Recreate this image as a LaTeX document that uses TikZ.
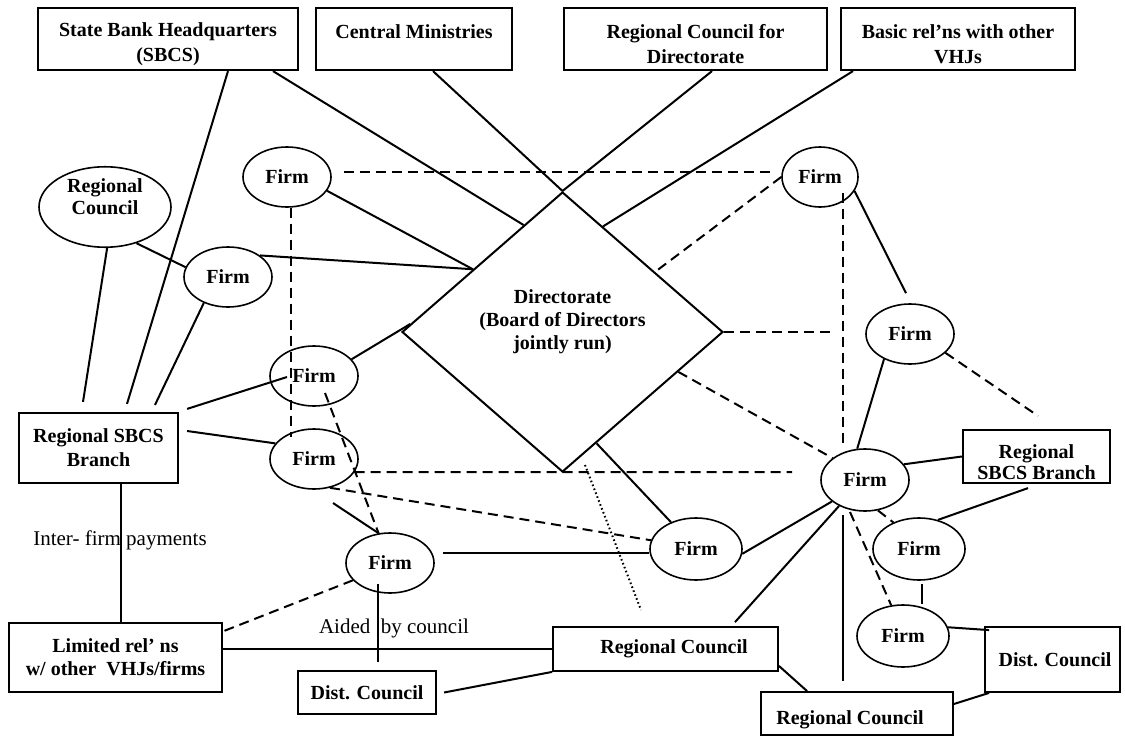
\documentclass[tikz,border=0pt]{standalone}
\usepackage{fontspec}
\setmainfont{Liberation Serif}
\usetikzlibrary{shapes.geometric}
% struts that push a label down (extra height) or up (extra depth) in its box
\newcommand\padtop[1]{\rule{0pt}{#1}}
\newcommand\padbot[1]{\rule[-#1]{0pt}{#1}}
\begin{document}
\begin{tikzpicture}[x=1pt,y=-1pt,
  box/.style={draw, line width=2.2pt, rectangle, inner sep=0pt, align=center,
    font=\fontsize{20}{25}\selectfont\bfseries},
  thinbox/.style={box, line width=1.8pt},
  firm/.style={draw, line width=1.6pt, ellipse, inner sep=0pt, align=center,
    minimum width=88, minimum height=60, font=\fontsize{20}{22}\selectfont\bfseries},
  link/.style={line width=2pt},
  dlink/.style={line width=2pt, dash pattern=on 10pt off 6pt},
  olink/.style={line width=2pt, dash pattern=on 1.6pt off 2.6pt},
  note/.style={inner sep=0pt, font=\fontsize{21}{25}\selectfont}]

\fill[white] (0,0) rectangle (1125,736);
\useasboundingbox (0,0) rectangle (1125,736);

% top row of boxes
\node[box, minimum width=260, minimum height=62] (hq) at (168,39) {\padtop{24pt}State Bank Headquarters\\(SBCS)};
\node[box, minimum width=196, minimum height=62] (cm) at (414,39) {\padtop{24pt}Central Ministries\\\mbox{}};
\node[box, minimum width=263, minimum height=62] (rcd) at (695.5,39) {\padtop{24pt}Regional Council for\\Directorate};
\node[box, minimum width=234, minimum height=62] (vhj) at (958,39) {\padtop{24pt}Basic rel’ns with other\\VHJs};

% the directorate
\node[draw, diamond, line width=2pt, minimum width=321, minimum height=280, inner sep=0pt] (dir) at (562.5,332) {};
\node[align=center, inner sep=0pt, font=\fontsize{20}{23}\selectfont\bfseries] (dirtext) at (562.5,322) {Directorate\\(Board of Directors\\jointly run)};

% councils and branches
\node[firm, minimum width=132, minimum height=80] (rc) at (105,207) {Regional\\Council\padbot{21pt}};
\node[box, minimum width=159, minimum height=70, font=\fontsize{20}{24}\selectfont\bfseries] (lb) at (98.5,448) {Regional SBCS\\Branch};
\node[box, minimum width=147, minimum height=53, font=\fontsize{20}{21}\selectfont\bfseries] (rb) at (1036.5,456.5) {\padtop{26pt}Regional\\SBCS Branch};
\node[box, minimum width=213, minimum height=69, font=\fontsize{20}{23}\selectfont\bfseries] (lim) at (115.5,657.5) {Limited rel’ ns\\w/ other~~VHJs/firms};
\node[box, minimum width=138, minimum height=43] (dcl) at (367,692.5) {Dist. Council};
\node[thinbox, minimum width=225, minimum height=44] (rcm) at (665.5,649) {\hspace*{17pt}Regional Council};
\node[thinbox, minimum width=192, minimum height=43] (rcb) at (857,713.5) {\padtop{26pt}Regional Council\hspace*{14pt}};
\node[thinbox, minimum width=135, minimum height=65] (dcr) at (1052.5,659.5) {\hspace*{5pt}Dist. Council};

% firms
\node[firm] (f1) at (287,177) {Firm};
\node[firm] (f2) at (228,277) {Firm};
\node[firm] (f3) at (314,376) {Firm};
\node[firm] (f4) at (314,459) {Firm};
\node[firm] (f5) at (390,563) {Firm};
\node[firm, minimum width=92, minimum height=62] (f6) at (696,549) {Firm};
\node[firm, minimum width=76] (f7) at (820,177) {Firm};
\node[firm] (f8) at (910,334) {Firm};
\node[firm, minimum height=62] (f9) at (865,480) {Firm};
\node[firm, minimum width=92, minimum height=62] (f10) at (919,549) {Firm};
\node[firm, minimum width=92, minimum height=62] (f11) at (903,636) {Firm};

% free labels
\node[note] (pay) at (120,540) {Inter- firm payments};
\node[note] (aid) at (394,628) {Aided\ \ by council};

% loose ends
\coordinate (e1) at (830,332);
\coordinate (e2) at (792,472);
\coordinate (p1) at (585,465);
\coordinate (p2) at (641,610);

% solid ties
\draw[link] ([xshift=60]hq.south) -- ([xshift=28.5,yshift=8]lb.north);
\draw[link] ([xshift=105]hq.south) -- (dir.110);
\draw[link] ([xshift=19]cm.south) -- (dir.north);
\draw[link] ([xshift=16.5]rcd.south) -- (dir.north);
\draw[link] ([xshift=-105]vhj.south) -- (dir.69);
\draw[link] (f1.-19) -- (dir.145);
\draw[link] (f2.34) -- (dir.145);
\draw[link] (f3.24) -- (dir.177);
\draw[link] (dir.-73) -- (f6.133);
\draw[link] (rc.-87) -- ([xshift=-15.5,yshift=10]lb.north);
\draw[link] (rc.-49) -- (f2.167);
\draw[link] (f2.-133) -- ([xshift=56.5,yshift=7]lb.north);
\draw[link] ([xshift=-27,yshift=-1]f3.center) -- ([xshift=8,yshift=3]lb.north east);
\draw[link] ([xshift=8,yshift=17]lb.east) -- (f4.158);
\draw[link] ([xshift=22.5]lb.south) -- ([xshift=5.5]lim.north);
\draw[link] (rcm.west -| lim.east) -- (rcm.west);
\draw[link] ([xshift=7]dcl.east) -- (rcm.south west);
\draw[link] ([xshift=-12,yshift=-21]f5.center) -- ([xshift=11,yshift=8]dcl.north);
\draw[link] ([xshift=53,yshift=10]f5.center) -- ([yshift=-4]f6.west);
\draw[link] ([xshift=19,yshift=-44]f4.center) -- (f5.111);
\draw[link] (f6.-6) -- (f9.213);
\draw[link] ([xshift=69.5,yshift=4]rcm.north) -- (f9.225);
\draw[link] ([yshift=6]rcm.south east) -- ([xshift=47]rcb.north west);
\draw[link] ([xshift=-22,yshift=-35]f9.center) -- ([xshift=-14,yshift=10]rcb.north);
\draw[link] (f9.22) -- (rb.west);
\draw[link] ([xshift=-8.5,yshift=-4]rb.south) -- (f10.57);
\draw[link] ([xshift=2.5,yshift=-3]f10.south) -- ([xshift=18.5]f11.north);
\draw[link] (f11.11) -- ([xshift=5,yshift=-4]dcr.north west);
\draw[link] ([xshift=5]dcr.south west) -- ([yshift=9.5]rcb.east);
\draw[link] (f7.-22) -- ([xshift=-4,yshift=10]f8.north);
\draw[link] (f8.-136) -- (f9.104);

% dashed ties
\draw[dlink] ([xshift=12,yshift=5]f1.east) -- ([xshift=-7,yshift=5]f7.west);
\draw[dlink] ([xshift=4]f1.south) -- ([xshift=-23,yshift=22]f4.center);
\draw[dlink] (f7.west) -- (dir.33);
\draw[dlink] ([xshift=23,yshift=-16]f7.center) -- ([xshift=-22,yshift=2]f9.north);
\draw[dlink] (dir.east) -- (e1);
\draw[dlink] (f8.-28) -- ([xshift=1.5,yshift=13]rb.north);
\draw[dlink] (dir.-19) -- (f9.146);
\draw[dlink] (f4.-18) -- (e2);
\draw[dlink] (f4.-61) -- (f6.169);
\draw[dlink] ([xshift=11,yshift=-17]f3.center) -- (f5.111);
\draw[dlink] (f5.205) -- ([xshift=-4,yshift=-11]lim.north east);
\draw[dlink] ([xshift=-15,yshift=-32]f9.center) -- (f11.111);
\draw[dlink] (f9.-67) -- (f10.134);

% dotted tie
\draw[olink] (p1) -- (p2);
\end{tikzpicture}
\end{document}
